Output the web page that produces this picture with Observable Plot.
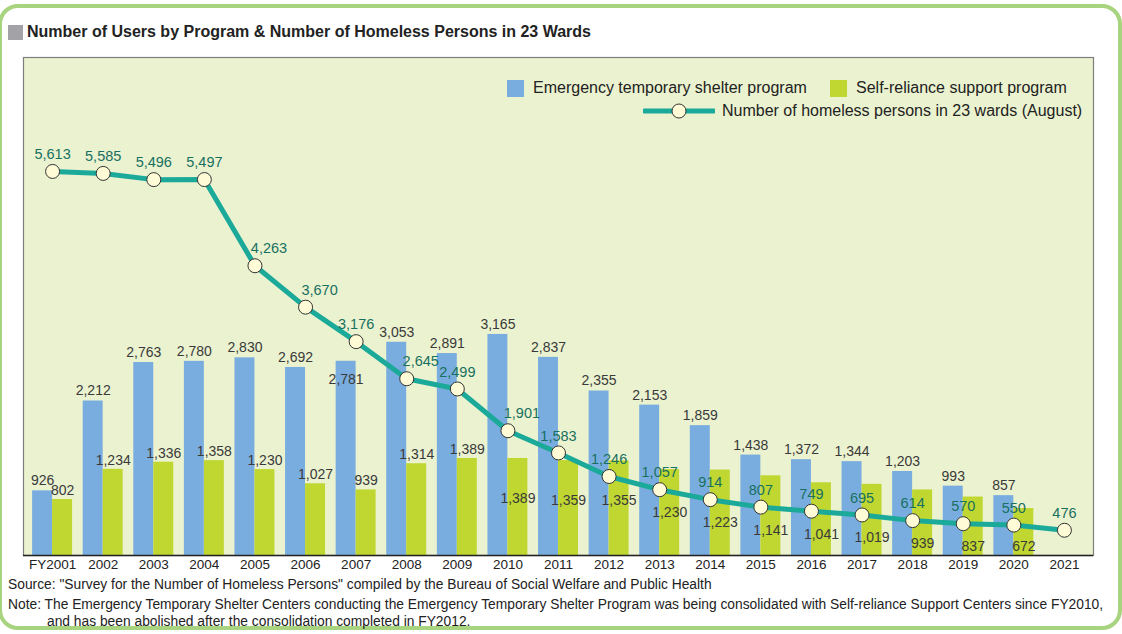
<!DOCTYPE html>
<html>
<head>
<meta charset="utf-8">
<script src="https://cdn.jsdelivr.net/npm/d3@7"></script>
<script src="https://cdn.jsdelivr.net/npm/@observablehq/plot@0.6"></script>
<style>
  html, body { margin: 0; padding: 0; background: #fff; }
  #wrap { position: relative; width: 1122px; height: 634px; overflow: hidden; font-family: "Liberation Sans", Arial, sans-serif; color: #222; }
  #card { position: absolute; left: -2px; top: 4px; width: 1116px; height: 618px; border: 4px solid #A9D47F; border-radius: 20px; background: #fff; }
  #title { position: absolute; left: 8px; top: 23px; font-weight: bold; font-size: 16px; white-space: nowrap; display: flex; align-items: center; }
  #title .sq { display: inline-block; width: 15px; height: 15px; background: #A3A3A7; margin-right: 4px; }
  #chart { position: absolute; left: 0; top: 0; }
  .legend { position: absolute; font-size: 16px; white-space: nowrap; display: flex; align-items: center; color: #222; }
  .sw { display: inline-block; width: 17px; height: 17px; margin-right: 9px; }
  .foot { position: absolute; font-size: 13.8px; white-space: nowrap; color: #222; }
</style>
</head>
<body>
<div id="wrap">
  <div id="card"></div>
  <div id="title"><span class="sq"></span>Number of Users by Program &amp; Number of Homeless Persons in 23 Wards</div>
  <div id="chart"></div>
  <div class="legend" style="left:507px; top:79px;"><span class="sw" style="background:#7AADDF"></span>Emergency temporary shelter program</div>
  <div class="legend" style="left:830px; top:79px;"><span class="sw" style="background:#BFD730"></span>Self-reliance support program</div>
  <div class="legend" style="left:643px; top:101px;">
    <svg width="72" height="20" style="margin-right:7px"><line x1="1" y1="10" x2="71" y2="10" stroke="#1BA999" stroke-width="5" stroke-linecap="round"/><circle cx="36" cy="10" r="7" fill="#FFFBD6" stroke="#333" stroke-width="1"/></svg>Number of homeless persons in 23 wards (August)
  </div>
  <div class="foot" style="left:8px; top:577px;">Source: "Survey for the Number of Homeless Persons" compiled by the Bureau of Social Welfare and Public Health</div>
  <div class="foot" style="left:8px; top:597px;">Note: The Emergency Temporary Shelter Centers conducting the Emergency Temporary Shelter Program was being consolidated with Self-reliance Support Centers since FY2010,</div>
  <div class="foot" style="left:47px; top:614px;">and has been abolished after the consolidation completed in FY2012.</div>
</div>
<script>
// ---- data ----
const years = ["FY2001","2002","2003","2004","2005","2006","2007","2008","2009","2010","2011","2012","2013","2014","2015","2016","2017","2018","2019","2020","2021"];
const emergency = [926,2212,2763,2780,2830,2692,2781,3053,2891,3165,2837,2355,2153,1859,1438,1372,1344,1203,993,857,null];
const selfReliance = [802,1234,1336,1358,1230,1027,939,1314,1389,1389,1359,1355,1230,1223,1141,1041,1019,939,837,672,null];
const homeless = [5613,5585,5496,5497,4263,3670,3176,2645,2499,1901,1583,1246,1057,914,807,749,695,614,570,550,476];

const rows = years.map((year, i) => ({year, emergency: emergency[i], selfReliance: selfReliance[i], homeless: homeless[i], i}));
const barRows = rows.filter(d => d.emergency != null);

// ---- layout ----
const W = 1122, H = 580;
const mTop = 57, mBottom = 25, mLeft = 23, mRight = 29;
const Y_MAX = 7130;
const ppu = (H - mTop - mBottom) / Y_MAX; // pixels per unit
const px = p => p / ppu;                  // pixels -> units

// the homeless line sits on its own (right-hand) scale whose zero is slightly below the bars' baseline
const lineScale = d3.scaleLinear().domain([0, Y_MAX]).range([-px(8), Y_MAX - px(8)]);
const lineY = d => lineScale(d.homeless);

const fmt = d3.format(",");
const BLUE = "#7AADDF", GREEN = "#BFD730", TEAL = "#1BA999";

// label placement rules (avoid collisions with the line)
const blueInside = d => { const g = lineY(d) - d.emergency; return g > 0 && g < 600; };
const greenInside = d => lineY(d) - d.selfReliance < 800;
const greenLabelY = d => greenInside(d)
  ? Math.max(Math.min(d.selfReliance - px(40), lineY(d) - px(23)), px(9))
  : d.selfReliance + px(9);
const steepIn = d => d.i > 0 && homeless[d.i - 1] - d.homeless > 500;

const chart = Plot.plot({
  width: W, height: H,
  marginTop: mTop, marginBottom: mBottom, marginLeft: mLeft, marginRight: mRight,
  style: {fontFamily: "'Liberation Sans', Arial, sans-serif", fontSize: "14px", background: "transparent", overflow: "visible"},
  x: {type: "band", domain: years, paddingInner: 0.21, paddingOuter: 0.18, round: false, label: null},
  y: {domain: [0, Y_MAX], axis: null},
  marks: [
    Plot.frame({fill: "#EBF2D0", stroke: "#7d7d7d", strokeWidth: 1.2}),
    Plot.barY(barRows, {x: "year", y: "emergency", fill: BLUE, insetRight: 20}),
    Plot.barY(barRows, {x: "year", y: "selfReliance", fill: GREEN, insetLeft: 20}),
    Plot.ruleY([0], {stroke: "#222", strokeWidth: 1.6}),
    Plot.axisX({tickSize: 0, tickPadding: 4, fontSize: 13.5, fill: "#222", label: null}),
    // bar labels
    Plot.text(barRows, {x: "year", y: d => blueInside(d) ? d.emergency - px(18) : d.emergency + px(10),
      text: d => fmt(d.emergency), dx: -10, fill: "#3a3a3a", fontSize: 14}),
    Plot.text(barRows, {x: "year", y: greenLabelY,
      text: d => fmt(d.selfReliance), dx: 10, fill: "#3a3a3a", fontSize: 14}),
    // homeless line
    Plot.line(rows, {x: "year", y: lineY, stroke: TEAL, strokeWidth: 5, strokeLinejoin: "round", strokeLinecap: "round"}),
    Plot.dot(rows, {x: "year", y: lineY, r: 7, fill: "#FFFBD6", stroke: "#333", strokeWidth: 1}),
    Plot.text(rows.filter(d => !steepIn(d)), {x: "year", y: d => lineY(d) + px(17), text: d => fmt(d.homeless), fill: "#18705F", fontSize: 14.5}),
    Plot.text(rows.filter(steepIn), {x: "year", y: d => lineY(d) + px(17), dx: 14, text: d => fmt(d.homeless), fill: "#18705F", fontSize: 14.5})
  ]
});
document.getElementById("chart").appendChild(chart);
</script>
</body>
</html>
